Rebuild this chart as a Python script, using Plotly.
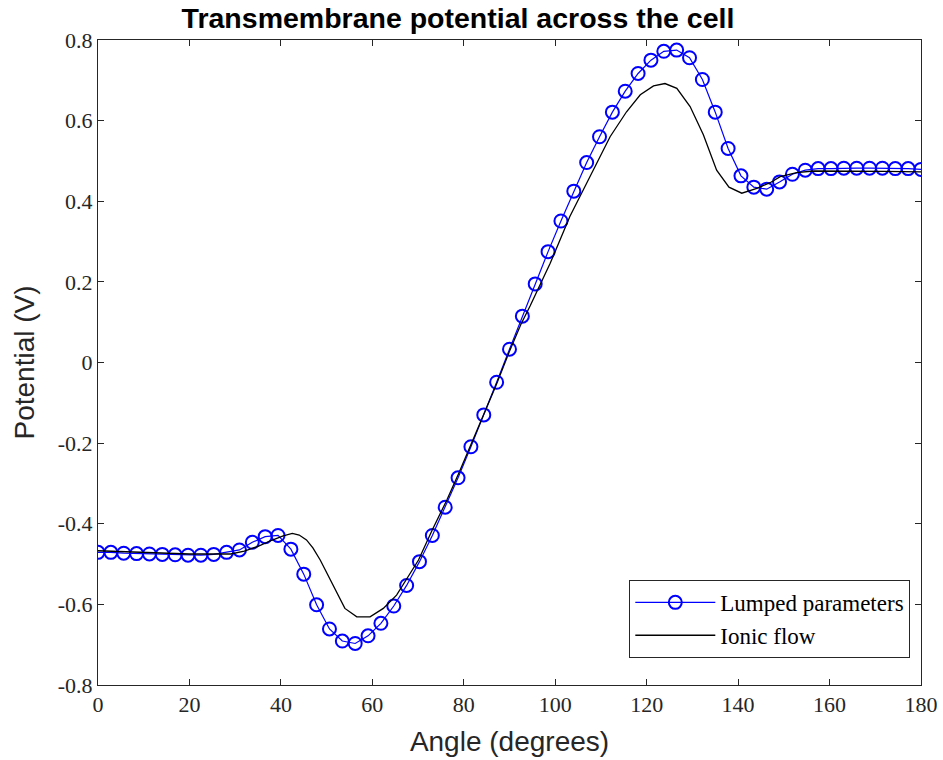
import plotly.graph_objects as go

# Lumped parameters (markers every 2.8125 degrees, 65 samples)
lumped_angle = [round(i * 2.8125, 4) for i in range(65)]
lumped_potential = [
    -0.471, -0.471, -0.473, -0.474, -0.475, -0.476, -0.477, -0.478, -0.478, -0.476,
    -0.471, -0.465, -0.446, -0.432, -0.429, -0.463, -0.525, -0.601, -0.661, -0.691,
    -0.697, -0.678, -0.647, -0.604, -0.553, -0.494, -0.429, -0.359, -0.286, -0.209,
    -0.130, -0.049, 0.033, 0.115, 0.195, 0.275, 0.351, 0.425, 0.496, 0.560,
    0.621, 0.673, 0.717, 0.750, 0.772, 0.775, 0.756, 0.702, 0.621, 0.531,
    0.463, 0.435, 0.430, 0.448, 0.467, 0.477, 0.481, 0.481, 0.482, 0.482,
    0.482, 0.482, 0.481, 0.481, 0.479,
]

# Ionic flow (solid black line)
ionic_angle = [
    0, 5, 10, 15, 20, 25, 29, 32, 35, 38, 40.5, 42.5, 44, 45.6, 47, 48.6, 51.5, 54,
    56.6, 59.5, 62.4, 65.3, 67.5, 70.1, 73, 76.3, 79, 81.5, 84.3, 87, 90, 92.5, 94.5,
    98.9, 103.2, 107.6, 112, 115.6, 118.6, 121.5, 124, 126.6, 129.5, 132.4, 135.3,
    138, 140.8, 144.1, 147, 149.2, 152.8, 156.5, 165, 172, 180,
]
ionic_potential = [
    -0.467, -0.469, -0.472, -0.474, -0.475, -0.475, -0.475, -0.468, -0.456, -0.441,
    -0.430, -0.424, -0.428, -0.440, -0.460, -0.490, -0.556, -0.610, -0.631, -0.631,
    -0.610, -0.577, -0.537, -0.490, -0.418, -0.341, -0.272, -0.205, -0.134, -0.058,
    0.028, 0.095, 0.140, 0.246, 0.362, 0.461, 0.560, 0.622, 0.664, 0.686, 0.692,
    0.680, 0.635, 0.565, 0.477, 0.435, 0.420, 0.432, 0.446, 0.461, 0.471, 0.475,
    0.475, 0.474, 0.473,
]

x_ticks = [0, 20, 40, 60, 80, 100, 120, 140, 160, 180]
y_ticks = [-0.8, -0.6, -0.4, -0.2, 0, 0.2, 0.4, 0.6, 0.8]
y_tick_text = ["-0.8", "-0.6", "-0.4", "-0.2", "0", "0.2", "0.4", "0.6", "0.8"]

fig = go.Figure()
fig.add_trace(go.Scatter(
    x=lumped_angle, y=lumped_potential, mode="lines+markers",
    name="Lumped parameters",
    line=dict(color="#0000ff", width=1.2),
    marker=dict(symbol="circle-open", size=13, color="#0000ff", line=dict(width=2)),
))
fig.add_trace(go.Scatter(
    x=ionic_angle, y=ionic_potential, mode="lines", name="Ionic flow",
    line=dict(color="#000000", width=1.3),
))

axis_common = dict(
    showline=True, linecolor="#262626", linewidth=1, mirror="ticks",
    ticks="inside", ticklen=6, tickcolor="#262626", tickwidth=1,
    showgrid=False, zeroline=False, automargin=False,
    tickfont=dict(family="Liberation Serif", size=22, color="#262626"),
)

fig.update_xaxes(
    range=[0, 180], tickvals=x_ticks, ticklabeloverflow="allow", **axis_common,
    title=dict(text="Angle (degrees)", font=dict(family="Liberation Sans", size=28, color="#262626"), standoff=14),
)
fig.update_yaxes(
    range=[-0.8, 0.8], tickvals=y_ticks, ticktext=y_tick_text, **axis_common,
    title=dict(text="Potential (V)", font=dict(family="Liberation Sans", size=28, color="#262626"), standoff=14),
)

fig.update_layout(
    width=943, height=760,
    margin=dict(l=98, r=22, t=40, b=75),
    paper_bgcolor="white", plot_bgcolor="white",
    title=dict(
        text="<b>Transmembrane potential across the cell</b>",
        font=dict(family="Liberation Sans", size=28.5, color="#000000"),
        x=458 / 943, xanchor="center", y=1 - 18 / 760, yanchor="middle",
    ),
    legend=dict(
        x=0.987, xanchor="right", y=0.042, yanchor="bottom",
        bgcolor="white", bordercolor="#262626", borderwidth=1,
        font=dict(family="Liberation Serif", size=23, color="#000000"),
        itemwidth=80, tracegroupgap=0,
    ),
    showlegend=True,
)

fig.write_html("out.html")
